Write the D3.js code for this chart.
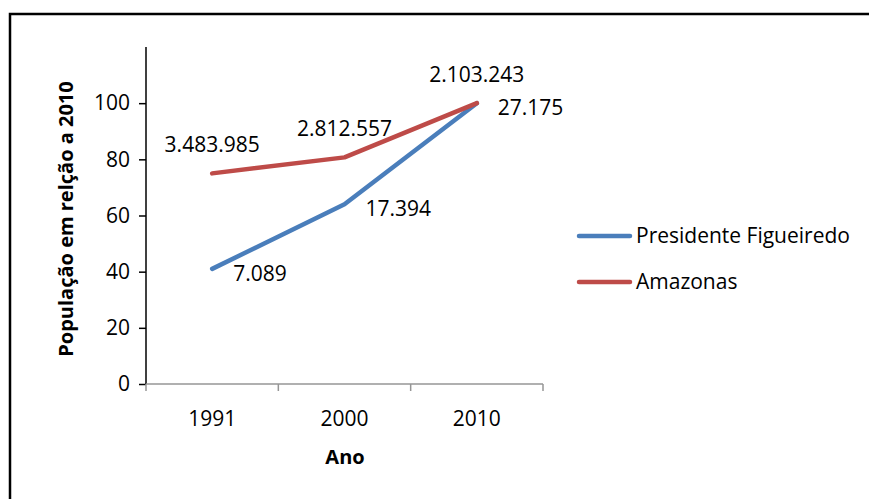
<!DOCTYPE html>
<html>
<head>
<meta charset="utf-8">
<script src="https://cdnjs.cloudflare.com/ajax/libs/d3/7.8.5/d3.min.js"></script>
<style>
  body { margin: 0; background: #fff; }
  text { font-family: "Open Sans", "Noto Sans", sans-serif; fill: #000; }
</style>
</head>
<body>
<div id="chart"></div>
<script>
var width = 869;
var height = 499;

// data
var years = ['1991', '2000', '2010'];
var seriesNames = ['Presidente Figueiredo', 'Amazonas'];
var figueiredo = [41, 64, 100];
var amazonas = [75, 80.7, 100];
var figueiredoLabels = ['7.089', '17.394', '27.175'];
var amazonasLabels = ['3.483.985', '2.812.557', '2.103.243'];
var yTicks = [0, 20, 40, 60, 80, 100];
var colors = ['#4a7ebb', '#be4b48'];

var svg = d3.select('#chart')
    .append('svg')
    .attr('width', width)
    .attr('height', height);

// outer frame
svg.append('rect')
    .attr('x', 10)
    .attr('y', 14)
    .attr('width', 880)
    .attr('height', 520)
    .attr('fill', 'none')
    .attr('stroke', '#000')
    .attr('stroke-width', 2.5);

var x = d3.scaleBand()
    .domain(years)
    .range([146, 543]);

var y = d3.scaleLinear()
    .domain([0, 120])
    .range([384, 47]);

var cx = function (d, i) { return x(years[i]) + x.bandwidth() / 2; };

// y axis
var yAxis = svg.append('g')
    .attr('transform', 'translate(146,0)')
    .call(d3.axisLeft(y).tickValues(yTicks).tickSize(7).tickPadding(9));
yAxis.select('.domain').remove();
yAxis.append('line')
    .attr('y1', y(0))
    .attr('y2', y(120))
    .attr('stroke', '#000')
    .attr('stroke-width', 1.5);
yAxis.selectAll('.tick line').attr('stroke', '#000').attr('stroke-width', 1.5);
yAxis.selectAll('.tick text')
    .style('font-size', '21px')
    .attr('fill', '#000');

// x axis
var xAxis = svg.append('g')
    .attr('transform', 'translate(0,' + y(0) + ')');
xAxis.append('line')
    .attr('x1', x.range()[0])
    .attr('x2', x.range()[1])
    .attr('stroke', '#969696')
    .attr('stroke-width', 1.5);
var xEdges = years.map(function (d) { return x(d); }).concat([x.range()[1]]);
xAxis.selectAll('line.xt')
    .data(xEdges)
    .enter()
    .append('line')
    .attr('class', 'xt')
    .attr('x1', function (d) { return d; })
    .attr('x2', function (d) { return d; })
    .attr('y1', 0)
    .attr('y2', 7)
    .attr('stroke', '#969696')
    .attr('stroke-width', 1.5);
xAxis.selectAll('text.xl')
    .data(years)
    .enter()
    .append('text')
    .attr('class', 'xl')
    .attr('x', function (d) { return x(d) + x.bandwidth() / 2; })
    .attr('y', 42)
    .attr('text-anchor', 'middle')
    .style('font-size', '21px')
    .text(function (d) { return d; });

// axis titles
svg.append('text')
    .attr('x', 345)
    .attr('y', 464)
    .attr('text-anchor', 'middle')
    .style('font-size', '20px')
    .style('font-weight', 'bold')
    .text('Ano');

svg.append('text')
    .attr('transform', 'translate(73,219) rotate(-90)')
    .attr('text-anchor', 'middle')
    .style('font-size', '20px')
    .style('font-weight', 'bold')
    .text('População em relção a 2010');

// lines
var line = d3.line()
    .x(cx)
    .y(function (d) { return y(d); });

var series = [figueiredo, amazonas];
svg.selectAll('path.series')
    .data(series)
    .enter()
    .append('path')
    .attr('class', 'series')
    .attr('d', line)
    .attr('fill', 'none')
    .attr('stroke', function (d, i) { return colors[i]; })
    .attr('stroke-width', 4.5)
    .attr('stroke-linejoin', 'round')
    .attr('stroke-linecap', 'round');

// data labels: blue to the right, red above
svg.selectAll('text.lblF')
    .data(figueiredo)
    .enter()
    .append('text')
    .attr('class', 'lblF')
    .attr('x', function (d, i) { return cx(d, i) + 21; })
    .attr('y', function (d) { return y(d) + 12; })
    .style('font-size', '21px')
    .text(function (d, i) { return figueiredoLabels[i]; });

svg.selectAll('text.lblA')
    .data(amazonas)
    .enter()
    .append('text')
    .attr('class', 'lblA')
    .attr('x', cx)
    .attr('y', function (d) { return y(d) - 21; })
    .attr('text-anchor', 'middle')
    .style('font-size', '21px')
    .text(function (d, i) { return amazonasLabels[i]; });

// legend
var legend = svg.selectAll('g.legend')
    .data(seriesNames)
    .enter()
    .append('g')
    .attr('class', 'legend')
    .attr('transform', function (d, i) { return 'translate(579,' + (236 + i * 46) + ')'; });
legend.append('line')
    .attr('x1', 0)
    .attr('x2', 51)
    .attr('stroke', function (d, i) { return colors[i]; })
    .attr('stroke-width', 4.5)
    .attr('stroke-linecap', 'round');
legend.append('text')
    .attr('x', 57)
    .attr('y', 7)
    .style('font-size', '21px')
    .text(function (d) { return d; });
</script>
</body>
</html>
